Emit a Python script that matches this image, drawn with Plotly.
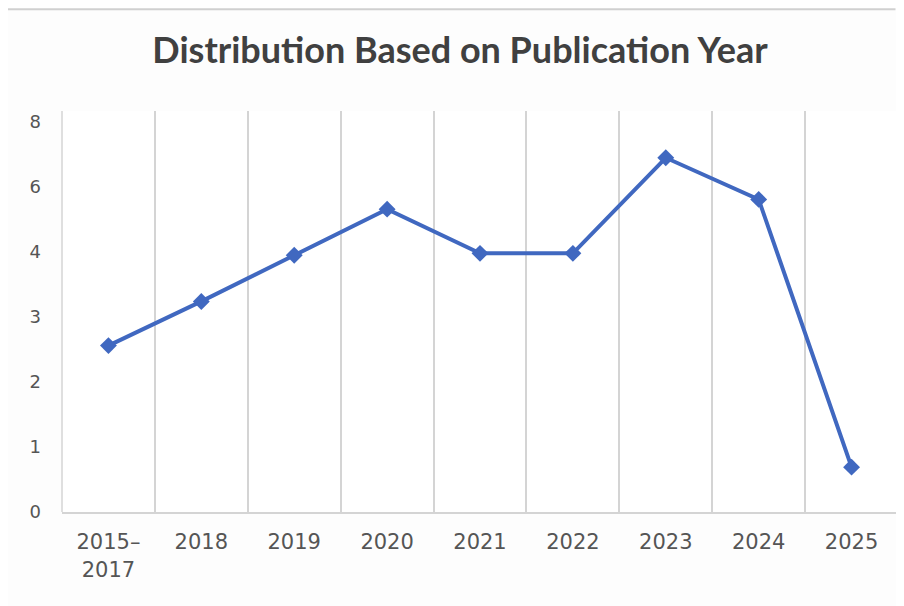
import plotly.graph_objects as go

categories = ["2015–<br>2017", "2018", "2019", "2020", "2021", "2022", "2023", "2024", "2025"]
values = [2.56, 3.24, 3.95, 4.66, 3.98, 3.98, 5.45, 4.81, 0.69]
y_tick_vals = [0, 1, 2, 3, 4, 5, 6]
y_tick_text = ["0", "1", "2", "3", "4", "6", "8"]

grid = "#d4d4d4"

fig = go.Figure()
fig.add_trace(go.Scatter(
    x=categories, y=values, mode="lines+markers",
    line=dict(color="#4068C0", width=4),
    marker=dict(symbol="diamond", size=13, color="#4068C0"),
    showlegend=False, cliponaxis=False,
))

fig.update_layout(
    width=904, height=606,
    margin=dict(l=54, r=14, t=103, b=102),
    paper_bgcolor="#fdfdfd", plot_bgcolor="#ffffff",
    title=dict(text="<b>Distribution Based on Publication Year</b>",
               x=0.5, xanchor="center", y=0.93, yanchor="middle",
               font=dict(family="Lato", size=36, color="#404040")),
    xaxis=dict(type="category", tickson="boundaries", showgrid=True,
               gridcolor=grid, gridwidth=1.5, ticks="",
               showline=True, linecolor=grid, linewidth=2,
               tickfont=dict(family="DejaVu Sans", size=21, color="#555555"),
               ticklabelstandoff=10, range=[-0.5, 8.5], zeroline=False),
    yaxis=dict(range=[0, 6.17], tickvals=y_tick_vals, ticktext=y_tick_text,
               showgrid=False, zeroline=False, showline=False, ticks="",
               tickfont=dict(family="DejaVu Sans", size=18, color="#555555"),
               ticklabelstandoff=20),
    shapes=[
        dict(type="line", xref="paper", yref="paper", x0=-0.07, x1=0.997,
             y0=1.254, y1=1.254, line=dict(color="#d0d0d0", width=2)),
        dict(type="line", xref="paper", yref="paper", x0=0, x1=0,
             y0=0, y1=1, line=dict(color=grid, width=1.5)),
        dict(type="line", xref="paper", yref="paper", x0=1, x1=1,
             y0=0, y1=1, line=dict(color=grid, width=1.5)),
    ],
)

fig.write_html("out.html")
